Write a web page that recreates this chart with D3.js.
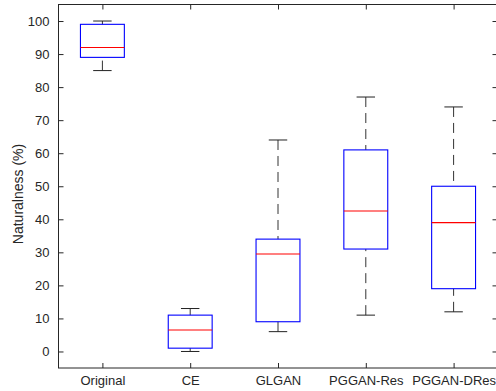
<!DOCTYPE html>
<html><head><meta charset="utf-8">
<script src="https://cdn.jsdelivr.net/npm/d3@7"></script>
<style>body{margin:0;background:#fff}svg{display:block}text{font-family:"Liberation Sans",Arial,sans-serif;fill:#262626}</style>
</head><body><svg id="c" width="496" height="391"></svg>
<script>
const categories = ["Original","CE","GLGAN","PGGAN-Res","PGGAN-DRes"];
const whiskerLow = [85, 0, 6, 11, 12];
const q1 = [89, 1, 9, 31, 19];
const median = [92, 6.5, 29.5, 42.5, 39];
const q3 = [99, 11, 34, 61, 50];
const whiskerHigh = [100, 13, 64, 77, 74];
const yTicks = [0,10,20,30,40,50,60,70,80,90,100];

const svg = d3.select("#c");
const L = 58.5, R = 497.5, T = 4.5, B = 368;
const x = d3.scaleLinear().domain([0.5, 5.5]).range([L, R]);
const y = d3.scaleLinear().domain([-5, 105]).range([B, T]);
const step = x(2) - x(1);
const bw = step * 0.5, cw = step * 0.21;

const data = categories.map((c,i)=>({c, i:i+1, lo:whiskerLow[i], q1:q1[i], med:median[i], q3:q3[i], hi:whiskerHigh[i]}));

const ax = svg.append("g");
ax.append("rect").attr("x",L).attr("y",T).attr("width",R-L).attr("height",B-T)
  .attr("fill","none").attr("stroke","#262626").attr("stroke-width",1);

const yAxis = d3.axisLeft(y).tickValues(yTicks).tickSizeInner(-5).tickSizeOuter(0).tickPadding(9);
const gy = svg.append("g").attr("transform",`translate(${L},0)`).call(yAxis);
gy.select(".domain").remove();
gy.selectAll("line").attr("stroke","#262626");
gy.selectAll("text").attr("font-size",13).style("fill","#262626");
const yAxisR = d3.axisRight(y).tickValues(yTicks).tickSizeInner(-5).tickSizeOuter(0).tickFormat("");
const gyr = svg.append("g").attr("transform",`translate(${R},0)`).call(yAxisR);
gyr.select(".domain").remove();
gyr.selectAll("line").attr("stroke","#262626");

const xAxis = d3.axisBottom(x).tickValues(data.map(d=>d.i)).tickFormat((d,i)=>categories[i]).tickSizeInner(-5).tickSizeOuter(0).tickPadding(8);
const gx = svg.append("g").attr("transform",`translate(0,${B})`).call(xAxis);
gx.select(".domain").remove();
gx.selectAll("line").attr("stroke","#262626");
gx.selectAll("text").attr("font-size",13).style("fill","#262626");
const xAxisT = d3.axisTop(x).tickValues(data.map(d=>d.i)).tickFormat("").tickSizeInner(-5).tickSizeOuter(0);
const gxt = svg.append("g").attr("transform",`translate(0,${T})`).call(xAxisT);
gxt.select(".domain").remove();
gxt.selectAll("line").attr("stroke","#262626");

svg.append("text").attr("transform",`translate(23,194) rotate(-90)`)
  .attr("text-anchor","middle").attr("font-size",14).text("Naturalness (%)");

const g = svg.append("g");
const bx = g.selectAll("g.box").data(data).join("g").attr("class","box");
bx.append("line").attr("x1",d=>x(d.i)).attr("x2",d=>x(d.i)).attr("y1",d=>y(d.hi)).attr("y2",d=>y(d.q3))
  .attr("stroke","#333").attr("stroke-dasharray","10,6");
bx.append("line").attr("x1",d=>x(d.i)).attr("x2",d=>x(d.i)).attr("y1",d=>y(d.lo)).attr("y2",d=>y(d.q1))
  .attr("stroke","#333").attr("stroke-dasharray","10,6");
bx.append("line").attr("x1",d=>x(d.i)-cw/2).attr("x2",d=>x(d.i)+cw/2).attr("y1",d=>y(d.hi)).attr("y2",d=>y(d.hi)).attr("stroke","#222");
bx.append("line").attr("x1",d=>x(d.i)-cw/2).attr("x2",d=>x(d.i)+cw/2).attr("y1",d=>y(d.lo)).attr("y2",d=>y(d.lo)).attr("stroke","#222");
bx.append("rect").attr("x",d=>x(d.i)-bw/2).attr("width",bw).attr("y",d=>y(d.q3)).attr("height",d=>y(d.q1)-y(d.q3))
  .attr("fill","none").attr("stroke","#0000ff").attr("stroke-width",1.1);
bx.append("line").attr("x1",d=>x(d.i)-bw/2).attr("x2",d=>x(d.i)+bw/2).attr("y1",d=>y(d.med)).attr("y2",d=>y(d.med))
  .attr("stroke","#ff0000").attr("stroke-width",1.1);
</script></body></html>
